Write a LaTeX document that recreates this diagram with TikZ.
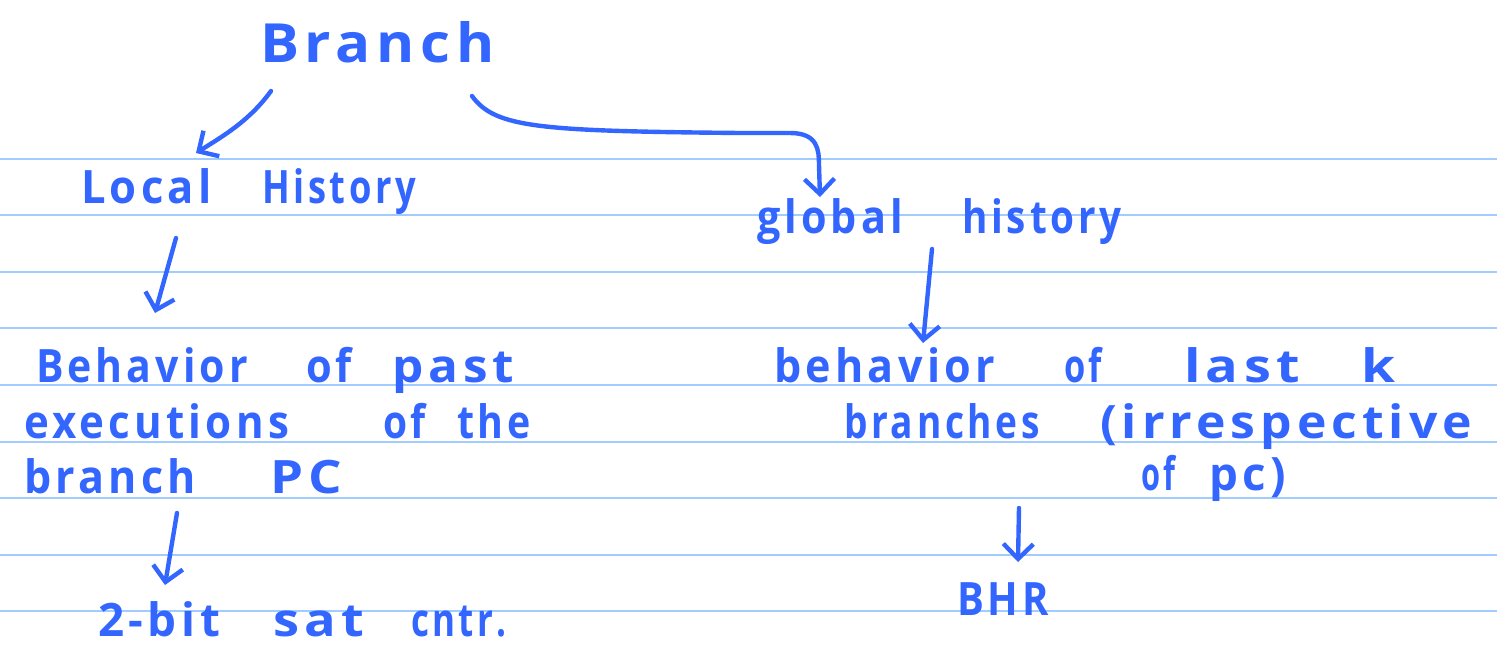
\documentclass[tikz,border=0pt]{standalone}
\usepackage{fontspec}
\usepackage{graphicx}
\setmainfont{Open Sans}[LetterSpace=10]
\usetikzlibrary{arrows.meta}
\definecolor{ink}{RGB}{51,102,255}
\definecolor{ruling}{RGB}{160,204,255}
% a word squeezed or stretched to a given width (in px)
\newcommand\hw[2]{\resizebox{#1pt}{\height}{#2}}
\tikzset{
  rule/.style={ruling, line width=2pt},
  word/.style={ink, anchor=base west, inner sep=0pt, outer sep=0pt,
    font=\fontsize{46}{52}\selectfont\bfseries},
  title/.style={word, font=\fontsize{54}{60}\selectfont\bfseries},
  stroke/.style={ink, line width=4.4pt, line cap=round, line join=round,
    -{Straight Barb[length=15pt,width=30pt,line width=4.4pt]}},
}
\begin{document}
\begin{tikzpicture}[x=1pt,y=-1pt]
\useasboundingbox (0,0) rectangle (1497,646);
\fill[white] (0,0) rectangle (1497,646);
% ruled paper
\foreach \k in {0,...,8}
  \draw[rule] (0,158.5+56.6*\k) -- (1497,158.5+56.6*\k);

% headings
\node[title] (branch) at (260,62) {\hw{235}{Branch}};
\node[word] (local) at (81,203) {\hw{131}{Local}\hspace{50pt}\hw{154}{History}};
\node[word] (global) at (757,233) {\hw{146}{global}\hspace{59pt}\hw{160}{history}};

% local history description
\node[word] (l1) at (36,382) {\hw{212}{Behavior}\hspace{58pt}\hw{46}{of}\hspace{40pt}\hw{122}{past}};
\node[word] (l2) at (24,438) {\hw{265}{executions}\hspace{94pt}\hw{43}{of}\hspace{31pt}\hw{74}{the}};
\node[word] (l3) at (24,493) {\hw{172}{branch}\hspace{74pt}\hw{72}{PC}};
\node[word] (cntr) at (98,636) {\hw{122}{2-bit}\hspace{53pt}\hw{91}{sat}\hspace{47pt}\hw{96}{cntr.}};

% global history description
\node[word] (g1) at (774,382) {\hw{221}{behavior}\hspace{69pt}\hw{38}{of}\hspace{82pt}\hw{116}{last}\hspace{61pt}\hw{34}{k}};
\node[word] (g2) at (844,438) {\hw{196}{branches}\hspace{60pt}\hw{372}{(irrespective}};
\node[word] (g3) at (1141,490) {\hw{34}{of}\hspace{34pt}\hw{77}{pc)}};
\node[word] (bhr) at (957,615) {\hw{92}{BHR}};

% connector end points
\coordinate (b-l) at (271,91);
\coordinate (l-in) at (196,153);
\coordinate (b-g) at (472,96);
\coordinate (g-in) at (820,197);
\coordinate (l-out) at (176,238);
\coordinate (l1-in) at (155,313);
\coordinate (g-out) at (932,249);
\coordinate (g1-in) at (923,343);
\coordinate (l3-out) at (177,513);
\coordinate (cntr-in) at (165,585);
\coordinate (g3-out) at (1019,508);
\coordinate (bhr-in) at (1018,562);

% connectors
\draw[stroke] (b-l) .. controls (250,120) and (225,135) .. (l-in);
\draw[stroke] (b-g) .. controls (495,128) and (540,131) .. (740,133)
  -- (790,133) .. controls (818,133) and (819,150) .. (819,165) -- (g-in);
\draw[stroke] (l-out) -- (l1-in);
\draw[stroke] (g-out) -- (g1-in);
\draw[stroke] (l3-out) -- (cntr-in);
\draw[stroke] (g3-out) -- (bhr-in);
\end{tikzpicture}
\end{document}
